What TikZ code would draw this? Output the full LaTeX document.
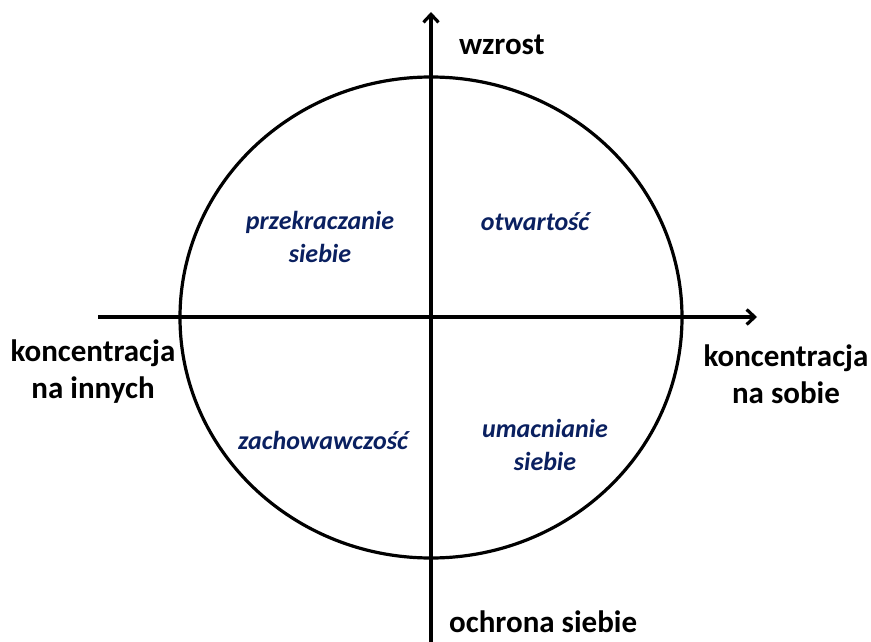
\documentclass[tikz,border=0pt]{standalone}
\usepackage{fontspec}
\setmainfont{Carlito}[BoldFont={Carlito Bold}, ItalicFont={Carlito Italic}, BoldItalicFont={Carlito Bold Italic}]
\usetikzlibrary{arrows.meta}
\definecolor{navy}{RGB}{10,32,96}
\tikzset{
  axis/.style={line width=3.2pt, -{Straight Barb[length=8pt,width=15pt,line width=3.2pt]}},
  axisfont/.style={font=\bfseries\fontsize{31}{37}\selectfont, inner sep=0pt},
  axislabel/.style={axisfont, align=center},
  quadlabel/.style={font=\bfseries\itshape\fontsize{26}{33}\selectfont, text=navy, align=center, inner sep=0pt}
}
\begin{document}
\begin{tikzpicture}[x=1pt,y=-1pt]
\useasboundingbox (0,0) rectangle (871,642);
% value circle
\draw[line width=3.2pt] (431,317.5) ellipse [x radius=251, y radius=240.5];
% axes
\coordinate (vb) at (431,642);
\coordinate (vt) at (431,12);
\coordinate (hl) at (98,317);
\coordinate (hr) at (757,317);
\draw[axis] (vb) -- (vt);
\draw[axis] (hl) -- (hr);
% axis labels
\node[axisfont, anchor=west] (up) at (459,45) {wzrost};
\node[axisfont, anchor=base west] (down) at (449,632) {ochrona siebie};
\node[axislabel] (left) at (93,372) {koncentracja\\na innych};
\node[axislabel] (right) at (786,374) {koncentracja\\na sobie};
% quadrant labels
\node[quadlabel] (q1) at (320,237) {przekraczanie\\siebie};
\node[quadlabel] (q2) at (535,222) {otwartość};
\node[quadlabel] (q3) at (323,440) {zachowawczość};
\node[quadlabel] (q4) at (545,445) {umacnianie\\siebie};
\end{tikzpicture}
\end{document}
